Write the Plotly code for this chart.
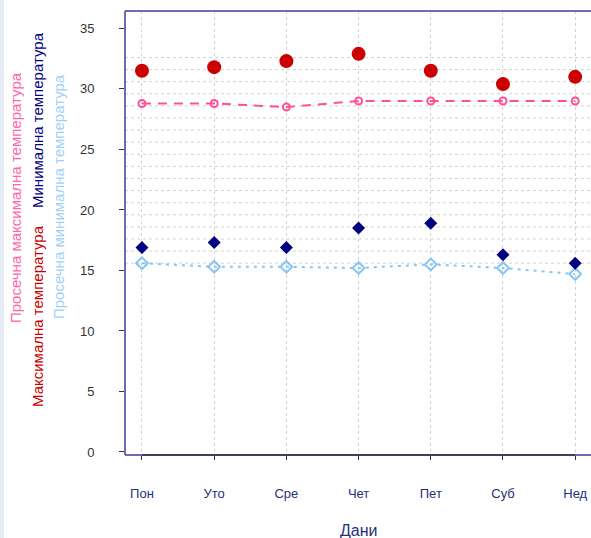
import plotly.graph_objects as go

days = ["Пон", "Уто", "Сре", "Чет", "Пет", "Суб", "Нед"]
max_temp = [31.5, 31.8, 32.3, 32.9, 31.5, 30.4, 31.0]
avg_max_temp = [28.8, 28.8, 28.5, 29.0, 29.0, 29.0, 29.0]
min_temp = [16.9, 17.3, 16.9, 18.5, 18.9, 16.3, 15.6]
avg_min_temp = [15.6, 15.3, 15.3, 15.2, 15.5, 15.2, 14.7]
y_ticks = [0, 5, 10, 15, 20, 25, 30, 35]
grid_levels = [15.6 + i for i in range(18)]

RED = "#cc0000"
PINK = "#ff4f98"
NAVY = "#000080"
LBLUE = "#87c4f2"
BORDER = "#3b3b98"
FONT = "Liberation Sans, Arial, sans-serif"

x_idx = list(range(len(days)))

W, H = 591, 538
L, R, T, B = 125, 0, 11, 83
pw, ph = W - L - R, H - T - B


def px2paper(px, py):
    return (px - L) / pw, (H - B - py) / ph


fig = go.Figure()

fig.add_trace(go.Scatter(
    x=x_idx, y=avg_max_temp, mode="lines+markers",
    line=dict(color=PINK, width=2, dash="9px,7px"),
    marker=dict(symbol="circle-open", size=7, color=PINK, line=dict(width=2, color=PINK)),
    showlegend=False))
fig.add_trace(go.Scatter(
    x=x_idx, y=avg_min_temp, mode="lines+markers",
    line=dict(color=LBLUE, width=2, dash="3px,5px"),
    marker=dict(symbol="diamond-open", size=9, color=LBLUE, line=dict(width=2, color=LBLUE)),
    showlegend=False))
fig.add_trace(go.Scatter(
    x=x_idx, y=max_temp, mode="markers",
    marker=dict(symbol="circle", size=14, color=RED),
    showlegend=False))
fig.add_trace(go.Scatter(
    x=x_idx, y=min_temp, mode="markers",
    marker=dict(symbol="diamond", size=10, color=NAVY),
    showlegend=False))

shapes = []
# horizontal dotted grid lines
for g in grid_levels:
    shapes.append(dict(type="line", xref="paper", x0=0, x1=1, yref="y", y0=g, y1=g,
                       line=dict(color="#d2d2d2", width=1, dash="dot"), layer="below"))
# left strip
sx0, _ = px2paper(0, 0)
sx1, _ = px2paper(4, 0)
shapes.append(dict(type="rect", xref="paper", yref="paper", x0=sx0, x1=sx1,
                   y0=-B / ph, y1=1 + T / ph, fillcolor="#e7edf4", line=dict(width=0), layer="below"))
# border (top, left, bottom)
shapes.append(dict(type="line", xref="paper", yref="paper", x0=0, x1=1, y0=1, y1=1,
                   line=dict(color=BORDER, width=1.5)))
shapes.append(dict(type="line", xref="paper", yref="paper", x0=0, x1=0, y0=0, y1=1,
                   line=dict(color=BORDER, width=1.5)))
shapes.append(dict(type="line", xref="paper", yref="paper", x0=0, x1=1, y0=0, y1=0,
                   line=dict(color=BORDER, width=1.5)))
shapes.append(dict(type="line", xref="x", yref="paper", x0=x_idx[0], x1=x_idx[-1], y0=0, y1=0,
                   line=dict(color="#333333", width=1.5)))

annotations = []
side_labels = [
    ("Просечна максимална температура", "#ff66a6", 15, 198),
    ("Минимална температура", NAVY, 37, 120),
    ("Максимална температура", RED, 37, 316),
    ("Просечна минимална температура", "#9fd0f5", 58, 197),
]
for text, col, px, py in side_labels:
    ax, ay = px2paper(px, py)
    annotations.append(dict(text=text, xref="paper", yref="paper", x=ax, y=ay,
                            textangle=-90, showarrow=False, xanchor="center", yanchor="middle",
                            font=dict(family=FONT, size=15, color=col)))
_, ty = px2paper(0, 530)
annotations.append(dict(text="Дани", xref="x", yref="paper", x=3, y=ty, showarrow=False,
                        xanchor="center", yanchor="middle",
                        font=dict(family=FONT, size=16, color="#27307a")))

fig.update_layout(
    width=W, height=H,
    margin=dict(l=L, r=R, t=T, b=B, pad=0),
    paper_bgcolor="white", plot_bgcolor="white",
    shapes=shapes, annotations=annotations,
    font=dict(family=FONT),
    xaxis=dict(
        range=[-0.235, 6.219], tickmode="array", tickvals=x_idx, ticktext=days,
        showgrid=True, gridcolor="#d2d2d2", griddash="dot", gridwidth=1,
        zeroline=False, showline=False,
        ticks="outside", ticklen=4, tickcolor="#333333", tickwidth=1,
        ticklabelstandoff=22,
        tickfont=dict(family=FONT, size=13, color="#27307a"),
    ),
    yaxis=dict(
        range=[-0.25, 36.44], tickmode="array", tickvals=y_ticks,
        showgrid=False, zeroline=False, showline=False,
        ticks="outside", ticklen=5, tickcolor="#333333", tickwidth=1,
        ticklabelposition="outside", ticklabelstandoff=22,
        tickfont=dict(family=FONT, size=13, color="#333333"),
    ),
)

fig.write_html("out.html", config={"displayModeBar": False},
               post_script="document.body.style.margin='0px';document.body.style.padding='0px';")
